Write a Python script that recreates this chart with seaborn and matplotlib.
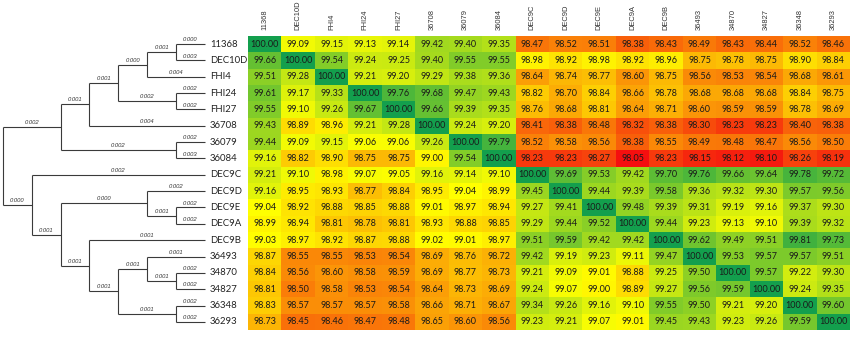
import numpy as np
import pandas as pd
import matplotlib
matplotlib.use("Agg")
import matplotlib.pyplot as plt
import seaborn as sns
from matplotlib.colors import LinearSegmentedColormap

# ---------------- data ----------------
strains = ["11368", "DEC10D", "FHI4", "FHI24", "FHI27", "36708", "36079", "36084",
           "DEC9C", "DEC9D", "DEC9E", "DEC9A", "DEC9B", "36493", "34870", "34827",
           "36348", "36293"]

r_11368 = [100.00, 99.09, 99.15, 99.13, 99.14, 99.42, 99.40, 99.35, 98.47, 98.52, 98.51, 98.38, 98.43, 98.49, 98.43, 98.44, 98.52, 98.46]
r_dec10d = [99.66, 100.00, 99.54, 99.24, 99.25, 99.40, 99.55, 99.55, 98.98, 98.92, 98.98, 98.92, 98.96, 98.75, 98.78, 98.75, 98.90, 98.84]
r_fhi4 = [99.51, 99.28, 100.00, 99.21, 99.20, 99.29, 99.38, 99.36, 98.64, 98.74, 98.77, 98.60, 98.75, 98.56, 98.53, 98.54, 98.68, 98.61]
r_fhi24 = [99.61, 99.17, 99.33, 100.00, 99.76, 99.68, 99.47, 99.43, 98.82, 98.70, 98.84, 98.66, 98.78, 98.68, 98.68, 98.68, 98.84, 98.75]
r_fhi27 = [99.55, 99.10, 99.26, 99.67, 100.00, 99.66, 99.39, 99.35, 98.76, 98.68, 98.81, 98.64, 98.71, 98.60, 98.59, 98.59, 98.78, 98.69]
r_36708 = [99.43, 98.89, 98.96, 99.21, 99.28, 100.00, 99.24, 99.20, 98.41, 98.38, 98.48, 98.32, 98.38, 98.30, 98.23, 98.23, 98.40, 98.38]
r_36079 = [99.44, 99.09, 99.15, 99.06, 99.06, 99.26, 100.00, 99.79, 98.52, 98.58, 98.56, 98.38, 98.55, 98.49, 98.48, 98.47, 98.56, 98.50]
r_36084 = [99.16, 98.82, 98.90, 98.75, 98.75, 99.00, 99.54, 100.00, 98.23, 98.23, 98.27, 98.05, 98.23, 98.15, 98.12, 98.10, 98.26, 98.19]
r_dec9c = [99.21, 99.10, 98.98, 99.07, 99.05, 99.16, 99.14, 99.10, 100.00, 99.69, 99.53, 99.42, 99.70, 99.76, 99.66, 99.64, 99.78, 99.72]
r_dec9d = [99.16, 98.95, 98.93, 98.77, 98.84, 98.95, 99.04, 98.99, 99.45, 100.00, 99.44, 99.39, 99.58, 99.36, 99.32, 99.30, 99.57, 99.56]
r_dec9e = [99.04, 98.92, 98.88, 98.85, 98.88, 99.01, 98.97, 98.94, 99.27, 99.41, 100.00, 99.48, 99.39, 99.31, 99.19, 99.16, 99.37, 99.30]
r_dec9a = [98.99, 98.94, 98.81, 98.78, 98.81, 98.93, 98.88, 98.85, 99.29, 99.44, 99.52, 100.00, 99.44, 99.23, 99.13, 99.10, 99.39, 99.32]
r_dec9b = [99.03, 98.97, 98.92, 98.87, 98.88, 99.02, 99.01, 98.97, 99.51, 99.59, 99.42, 99.42, 100.00, 99.62, 99.49, 99.51, 99.81, 99.73]
r_36493 = [98.87, 98.55, 98.55, 98.53, 98.54, 98.69, 98.76, 98.72, 99.42, 99.19, 99.23, 99.11, 99.47, 100.00, 99.53, 99.57, 99.57, 99.51]
r_34870 = [98.84, 98.56, 98.60, 98.58, 98.59, 98.69, 98.77, 98.73, 99.21, 99.09, 99.01, 98.88, 99.25, 99.50, 100.00, 99.57, 99.22, 99.30]
r_34827 = [98.81, 98.50, 98.58, 98.53, 98.54, 98.64, 98.73, 98.69, 99.24, 99.07, 99.00, 98.89, 99.27, 99.56, 99.59, 100.00, 99.24, 99.35]
r_36348 = [98.83, 98.57, 98.57, 98.57, 98.58, 98.66, 98.71, 98.67, 99.34, 99.26, 99.16, 99.10, 99.55, 99.50, 99.21, 99.20, 100.00, 99.60]
r_36293 = [98.73, 98.45, 98.46, 98.47, 98.48, 98.65, 98.60, 98.56, 99.23, 99.21, 99.07, 99.01, 99.45, 99.43, 99.23, 99.26, 99.59, 100.00]

rows = [r_11368, r_dec10d, r_fhi4, r_fhi24, r_fhi27, r_36708, r_36079, r_36084,
        r_dec9c, r_dec9d, r_dec9e, r_dec9a, r_dec9b, r_36493, r_34870, r_34827,
        r_36348, r_36293]

# tree: (branch label, subtree or leaf name)
tree = ("", [
    ("0.002", [
        ("0.001", [
            ("0.001", [
                ("0.000", [
                    ("0.001", [("0.000", "11368"), ("0.003", "DEC10D")]),
                    ("0.004", "FHI4")]),
                ("0.002", [("0.002", "FHI24"), ("0.002", "FHI27")])]),
            ("0.004", "36708")]),
        ("0.002", [("0.002", "36079"), ("0.003", "36084")])]),
    ("0.000", [
        ("0.002", "DEC9C"),
        ("0.001", [
            ("0.000", [("0.002", "DEC9D"),
                       ("0.001", [("0.002", "DEC9E"), ("0.002", "DEC9A")])]),
            ("0.001", [
                ("0.001", "DEC9B"),
                ("0.001", [
                    ("0.001", [("0.001", "36493"),
                               ("0.001", [("0.002", "34870"), ("0.002", "34827")])]),
                    ("0.001", [("0.002", "36348"), ("0.002", "36293")])])])])])])

# ---------------- figure ----------------
W, H = 851, 337
fig = plt.figure(figsize=(W / 100, H / 100), dpi=100)
fig.patch.set_facecolor("white")

hm_left, hm_right, hm_top, hm_bottom = 248, 850, 36, 330
rect_h = [hm_left / W, (H - hm_bottom) / H, (hm_right - hm_left) / W, (hm_bottom - hm_top) / H]
ax_h = fig.add_axes(rect_h)

df = pd.DataFrame(rows, index=strains, columns=strains)
vals = df.values.ravel()
vmin, vmax, vmid = vals.min(), vals.max(), np.percentile(vals, 50)
pos = (vmid - vmin) / (vmax - vmin)
cmap = LinearSegmentedColormap.from_list(
    "ryg", [(0.0, "#F50F0F"), (pos, "#FFFF00"), (1.0, "#139F4D")])

sns.heatmap(df, ax=ax_h, cmap=cmap, vmin=vmin, vmax=vmax, cbar=False,
            annot=True, fmt=".2f",
            annot_kws=dict(fontsize=6.5, color="#1a1a1a", family="Lato"),
            xticklabels=True, yticklabels=False, linewidths=0)
ax_h.xaxis.tick_top()
ax_h.set_xticklabels(strains, rotation=90, fontsize=5.4, color="#333333",
                     family="Liberation Sans")
ax_h.tick_params(axis="x", length=0, pad=4)
ax_h.set_xlabel("")
ax_h.set_ylabel("")

# ---------------- dendrogram ----------------
ax_d = fig.add_axes([0, rect_h[1], hm_left / W, rect_h[3]])
ax_d.set_xlim(0, hm_left)
ax_d.set_ylim(len(strains), 0)
ax_d.axis("off")

TIP_X = 205
STEP = 28.9
LINE = dict(color="#3a3a3a", lw=0.8, solid_capstyle="butt")


def height(node):
    sub = node[1]
    if isinstance(sub, str):
        return 0
    return 1 + max(height(c) for c in sub)


def draw(node):
    sub = node[1]
    if isinstance(sub, str):
        return TIP_X, strains.index(sub) + 0.5
    pts = [draw(c) for c in sub]
    x = TIP_X - STEP * height(node)
    ys = [p[1] for p in pts]
    ax_d.plot([x, x], [min(ys), max(ys)], **LINE)
    for c, (cx, cy) in zip(sub, pts):
        ax_d.plot([x, cx], [cy, cy], **LINE)
        ax_d.text((x + cx) / 2, cy - 0.12, c[0], ha="center", va="bottom",
                  fontsize=4.2, style="italic", color="#333333",
                  family="Liberation Sans")
    return x, (min(ys) + max(ys)) / 2


draw(tree)

for i, s in enumerate(strains):
    ax_d.text(TIP_X + 5, i + 0.5, s, ha="left", va="center", fontsize=6.9,
              color="#222222", family="Lato")

fig.savefig("out.png", dpi=100, facecolor="white")
